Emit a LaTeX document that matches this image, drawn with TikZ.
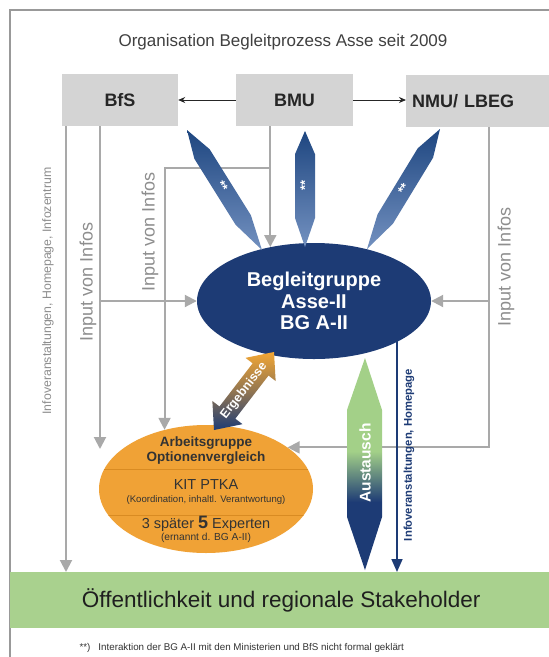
\documentclass[tikz,border=0pt]{standalone}
\usepackage{fontspec}
\setmainfont{Liberation Sans}
\usetikzlibrary{calc,arrows.meta,shapes.geometric}
\definecolor{boxgray}{HTML}{D4D4D4}
\definecolor{linegray}{HTML}{A9A9A9}
\definecolor{txtgray}{HTML}{8E8E8E}
\definecolor{navy}{HTML}{1D3B75}
\definecolor{lancedark}{HTML}{1E4680}
\definecolor{lancelight}{HTML}{7391C0}
\definecolor{orangeE}{HTML}{F0A236}
\definecolor{orangeLine}{HTML}{D98B22}
\definecolor{greenband}{HTML}{A9D18E}
\definecolor{austgreen}{HTML}{A3D088}
\definecolor{ergorange}{HTML}{F2A634}
\pgfdeclarelayer{back}
\pgfsetlayers{back,main}
\pgfdeclareverticalshading{aust}{100bp}{color(0bp)=(navy); color(25bp)=(navy); color(41bp)=(navy); color(53bp)=(austgreen); color(75bp)=(austgreen); color(100bp)=(austgreen)}
\newcommand\mylance[3]{%
  \shade[top color=lancedark, bottom color=lancelight]
   (#1) -- ($(#1)!0.2!(#2)!#3!90:(#2)$) -- ($(#1)!0.75!(#2)!#3!90:(#2)$) -- (#2)
   -- ($(#1)!0.75!(#2)!#3!-90:(#2)$) -- ($(#1)!0.2!(#2)!#3!-90:(#2)$) -- cycle;}
\begin{document}
\begin{tikzpicture}[x=1pt,y=-1pt,
  graybox/.style={fill=boxgray, font=\fontsize{18}{21}\selectfont\bfseries, text=black!85, inner sep=0, minimum height=52pt},
  gl/.style={draw=linegray, line width=2pt, -{Triangle[length=12pt,width=12pt]}},
  navyline/.style={draw=navy, line width=1.6pt, -{Triangle[length=13pt,width=11pt]}},
  blk/.style={draw=black!85, line width=0.9pt, -{Stealth[length=7pt,width=6pt]}},
  infolabel/.style={rotate=90, text=txtgray, font=\fontsize{18}{21}\selectfont},
  stars/.style={text=white, font=\fontsize{13}{13}\selectfont\bfseries, inner sep=0}
]
\useasboundingbox (0,0) rectangle (549,657);
\begin{pgfonlayer}{back}
\fill[white] (0,0) rectangle (549,657);
\end{pgfonlayer}
\draw[black!40, line width=1.2pt] (10,657) -- (10,10) -- (549,10);

\node[text=black!75, font=\fontsize{17}{20}\selectfont] (title) at (283,42) {Organisation Begleitprozess Asse seit 2009};

% boxes
\node[graybox, minimum width=116pt] (bfs) at (120,100) {BfS};
\node[graybox, minimum width=117pt] (bmu) at (294.5,100) {BMU};
\node[graybox, minimum width=143pt, anchor=west, text width=131pt, align=left, inner xsep=6pt] (nmu) at (406,101) {NMU/ LBEG};
\draw[blk] (bmu.west |- bfs.east) -- (bfs.east);
\draw[blk] (bmu.east) -- (nmu.west |- bmu.east);

% ellipses
\node[ellipse, fill=navy, minimum width=234pt, minimum height=116pt, inner sep=0] (bg) at (314,301) {};
\node[text=white, font=\fontsize{20}{21.5}\selectfont\bfseries, align=center] (bgtext) at (bg.center) {Begleitgruppe\\Asse-II\\BG A-II};

\node[ellipse, fill=orangeE, minimum width=214pt, minimum height=128pt, inner sep=0] (ag) at (206,489) {};
\begin{scope}
  \clip (206,489) ellipse [x radius=107pt, y radius=64pt];
  \draw[orangeLine, line width=0.7pt] (90,469) -- (320,469);
  \draw[orangeLine, line width=0.7pt] (90,515) -- (320,515);
\end{scope}
\node[text=black!80, font=\fontsize{13.5}{15}\selectfont\bfseries, align=center] (ag1) at (206,451) {Arbeitsgruppe\\Optionenvergleich};
\node[text=black!80, font=\fontsize{14.5}{16}\selectfont] (ag2) at (206,485) {KIT PTKA};
\node[text=black!80, font=\fontsize{9.6}{11}\selectfont] (ag3) at (206,500) {(Koordination, inhaltl. Verantwortung)};
\node[text=black!80, font=\fontsize{14.5}{16}\selectfont] (ag4) at (206,524) {3 später {\fontsize{18}{18}\selectfont\bfseries 5} Experten};
\node[text=black!80, font=\fontsize{10.2}{11}\selectfont] (ag5) at (206,538) {(ernannt d. BG A-II)};

% public band
\node[fill=greenband, minimum width=539pt, minimum height=56pt, inner sep=0, anchor=north west,
      text=black!88, font=\fontsize{22.5}{25}\selectfont] (pub) at (10,572) {\hspace*{3pt}Öffentlichkeit und regionale Stakeholder};
\node[anchor=west, text=black!80, font=\fontsize{9.8}{11}\selectfont] (fn) at (76,648) {**)\hspace{8pt}Interaktion der BG A-II mit den Ministerien und BfS nicht formal geklärt};

% gray connectors
\coordinate (agtip) at (100,449);
\coordinate (j1) at (bg.129 |- 0,168);
\begin{pgfonlayer}{back}
  \draw[gl] (66,0 |- bfs.south) -- (66,0 |- pub.north);
  \draw[gl] (100,0 |- bfs.south) -- (agtip);
  \draw[gl] (100,0 |- bg.west) -- (bg.west);
  \draw[gl] (bg.129 |- bmu.south) -- (bg.129);
  \draw[gl] (j1) -- (ag.125 |- j1) -- (ag.125);
  \draw[gl] (489,0 |- nmu.south) -- (489,0 |- ag.27) -- (ag.27);
  \draw[gl] (489,0 |- bg.east) -- (bg.east);
  \draw[navyline] (397,0 |- bg.center) -- (397,0 |- pub.north);
\end{pgfonlayer}

\node[rotate=90, text=txtgray, font=\fontsize{12.3}{14}\selectfont] (infoz) at (48,291) {Infoveranstaltungen, Homepage, Infozentrum};
\node[infolabel] (inp1) at (88,282) {Input von Infos};
\node[infolabel] (inp2) at (150,232) {Input von Infos};
\node[infolabel] (inp3) at (506,267) {Input von Infos};
\node[rotate=90, text=navy, font=\fontsize{11.3}{13}\selectfont\bfseries] (infoh) at (409,455) {Infoveranstaltungen, Homepage};

% lances
\coordinate (la1) at (187,130); \coordinate (lb1) at (262,250);
\coordinate (la2) at (305,131); \coordinate (lb2) at (305,247);
\coordinate (la3) at (440,129); \coordinate (lb3) at (367,249);
\mylance{la1}{lb1}{9pt}
\mylance{la2}{lb2}{10pt}
\mylance{la3}{lb3}{9pt}
\node[stars, rotate=-58] (s1) at ($(la1)!0.47!(lb1)$) {**};
\node[stars, rotate=90] (s2) at ($(la2)!0.47!(lb2)$) {**};
\node[stars, rotate=58] (s3) at ($(la3)!0.5!(lb3)$) {**};

% Ergebnisse double arrow
\coordinate (e1) at (214,430);
\coordinate (e2) at (274,352);
\shade[top color=ergorange, bottom color=navy, middle color=ergorange!55!navy]
  (e1) -- ($(e1)!22pt!(e2)!19pt!90:(e2)$) -- ($(e1)!22pt!(e2)!10pt!90:(e2)$)
  -- ($(e2)!22pt!(e1)!10pt!-90:(e1)$) -- ($(e2)!22pt!(e1)!19pt!-90:(e1)$) -- (e2)
  -- ($(e2)!22pt!(e1)!19pt!90:(e1)$) -- ($(e2)!22pt!(e1)!10pt!90:(e1)$)
  -- ($(e1)!22pt!(e2)!10pt!-90:(e2)$) -- ($(e1)!22pt!(e2)!19pt!-90:(e2)$) -- cycle;
\node[rotate=52, text=white, font=\fontsize{12.5}{14}\selectfont\bfseries] (erg) at ($(e1)!0.5!(e2)$) {Ergebnisse};

% Austausch double arrow
\shade[shading=aust] (365,358) -- (382,410) -- (382,517) -- (365,570) -- (347,517) -- (347,410) -- cycle;
\node[rotate=90, text=white, font=\fontsize{15.5}{17}\selectfont\bfseries] (aus) at (365,463) {Austausch};
\end{tikzpicture}
\end{document}
